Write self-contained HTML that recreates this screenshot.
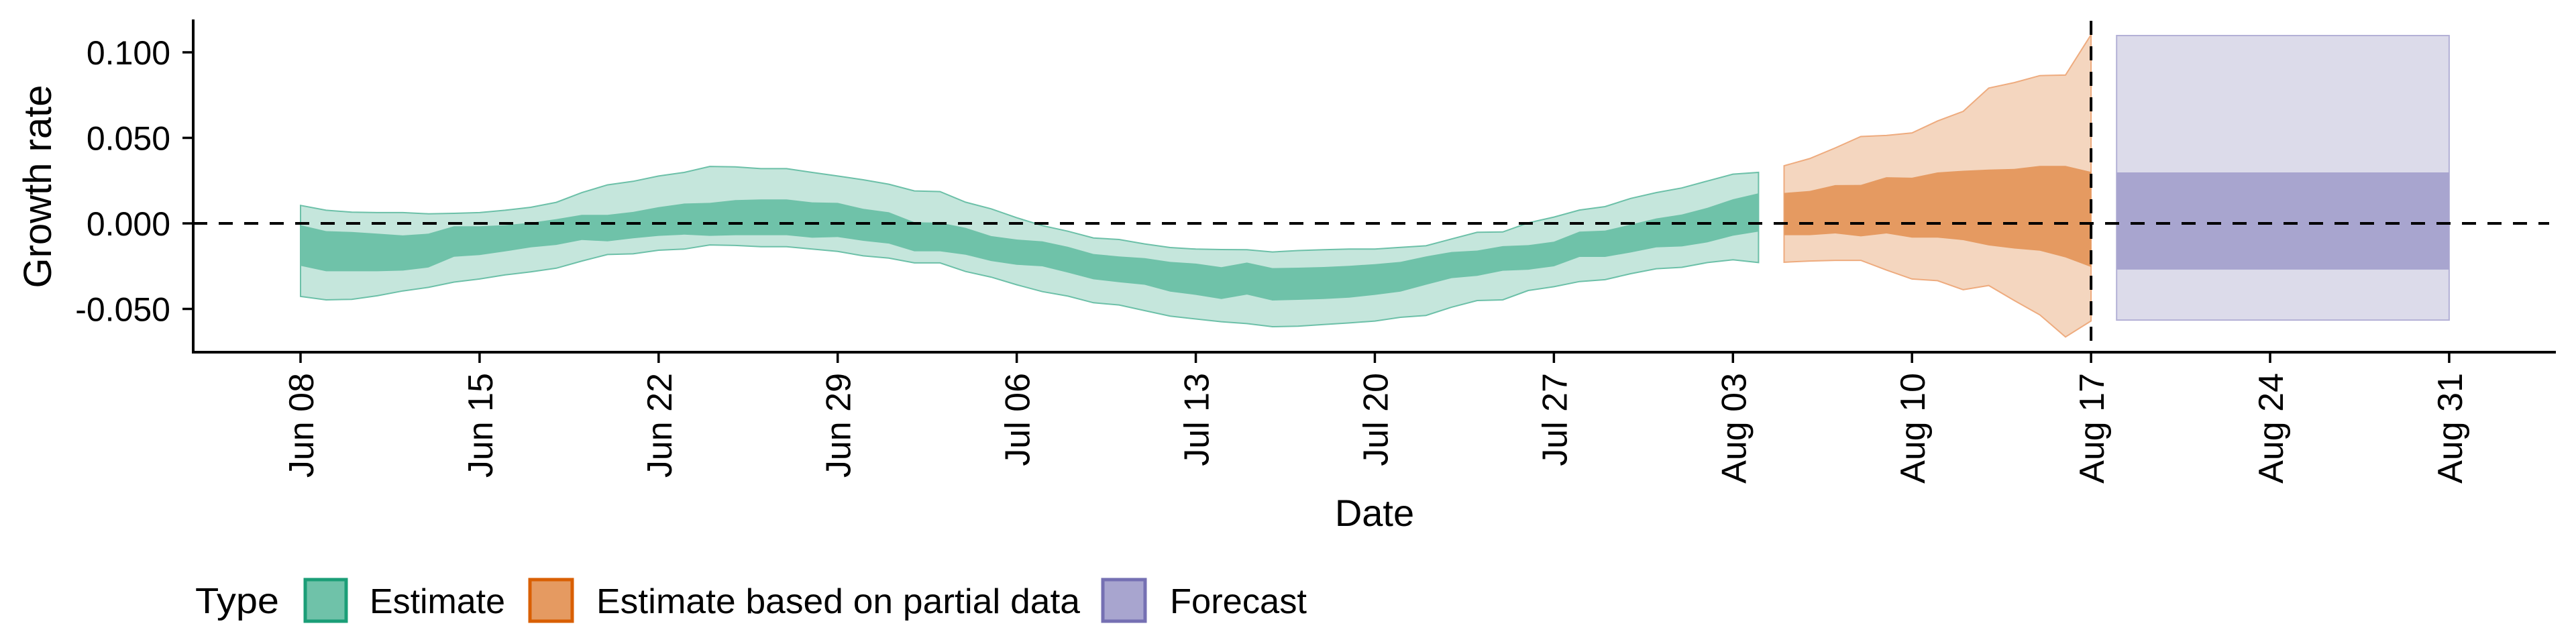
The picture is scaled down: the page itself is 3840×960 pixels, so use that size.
<!DOCTYPE html>
<html><head><meta charset="utf-8"><style>
html,body{margin:0;padding:0;background:#fff;}
svg{display:block;font-family:"Liberation Sans",sans-serif;}
</style></head><body>
<svg id="chart" width="3840" height="960" viewBox="0 0 3840 960" xmlns="http://www.w3.org/2000/svg">
<g id="bands"></g>
<g id="axes"></g>
<g id="legend">
  <text x="291" y="914" font-size="54" textLength="125" lengthAdjust="spacingAndGlyphs">Type</text>
  <rect x="455" y="864" width="61" height="62" fill="#6fc2a9" stroke="#1b9e77" stroke-width="5"/>
  <text x="551" y="914" font-size="52" textLength="202" lengthAdjust="spacingAndGlyphs">Estimate</text>
  <rect x="790" y="864" width="63" height="62" fill="#e59a61" stroke="#d95f02" stroke-width="5"/>
  <text x="889" y="914" font-size="52" textLength="721" lengthAdjust="spacingAndGlyphs">Estimate based on partial data</text>
  <rect x="1644" y="864" width="63" height="62" fill="#a8a5cf" stroke="#7570b3" stroke-width="5"/>
  <text x="1744" y="914" font-size="52" textLength="204" lengthAdjust="spacingAndGlyphs">Forecast</text>
</g>
</svg>
<script>
// Day index 0 = Jun 08
const tickLabels = ["Jun 08","Jun 15","Jun 22","Jun 29","Jul 06","Jul 13","Jul 20","Jul 27","Aug 03","Aug 10","Aug 17","Aug 24","Aug 31"];
const tickDays = [0,7,14,21,28,35,42,49,56,63,70,77,84];
const yTicks = [0.1,0.05,0,-0.05];
const yTickLabels = ["0.100","0.050","0.000","-0.050"];

const estStart = 0;
const estOuterUp = [.0105,.0077,.0066,.0063,.0063,.0056,.0059,.0063,.0077,.0094,.0123,.018,.0225,.0246,.0277,.0298,.0333,.033,.032,.032,.0298,.0277,
 .0255,.0229,.0190,.0186,.0124,.0085,.0033,-.0013,-.0046,-.0085,-.0094,-.0120,-.0141,-.0150,-.0153,-.0154,-.0167,-.0159,-.0154,-.0150,-.0150,-.0140,-.0131,-.0091,-.0052,-.0050,.0003,.0037,.0078,.0098,.0146,.0180,.0207,.0248,.0288,.0298];
const estInnerUp = [-.001,-.0045,-.005,-.006,-.007,-.006,-.0017,-.0017,-.001,.0004,.0025,.005,.005,.0067,.0095,.0116,.012,.0136,.014,.014,.0123,.012,
 .0085,.0065,.0007,.0004,-.0026,-.0074,-.0094,-.0105,-.0137,-.0179,-.0193,-.0203,-.0225,-.0235,-.0256,-.0229,-.0261,-.0259,-.0255,-.0248,-.0238,-.0225,-.0193,-.0167,-.0159,-.0133,-.0127,-.0107,-.0048,-.0042,-.0007,.0029,.0052,.0091,.0141,.0176];
const estInnerLo = [-.0248,-.028,-.028,-.028,-.0276,-.0258,-.0195,-.0185,-.0164,-.014,-.0126,-.0097,-.0105,-.0087,-.0073,-.0066,-.0073,-.0069,-.0069,-.0069,-.0084,-.008,
 -.0102,-.0118,-.0163,-.0163,-.0183,-.0220,-.0242,-.0251,-.0288,-.0327,-.0344,-.0359,-.0399,-.0418,-.0442,-.0416,-.0451,-.0447,-.0442,-.0434,-.0418,-.0399,-.0359,-.0320,-.0307,-.0277,-.0271,-.0251,-.0196,-.0196,-.0170,-.0140,-.0135,-.0111,-.0072,-.0048];
const estOuterLo = [-.0427,-.0447,-.0444,-.0423,-.0395,-.0374,-.0343,-.0325,-.0301,-.0283,-.0262,-.022,-.0182,-.0178,-.0157,-.015,-.0126,-.0129,-.0136,-.0136,-.015,-.0164,
 -.0190,-.0203,-.0231,-.0231,-.0281,-.0314,-.0359,-.0399,-.0425,-.0464,-.0477,-.0510,-.0542,-.0559,-.0575,-.0586,-.0604,-.0601,-.0591,-.0582,-.0571,-.0549,-.0538,-.0490,-.0451,-.0447,-.0392,-.0370,-.0340,-.0329,-.0294,-.0265,-.0257,-.0229,-.0213,-.0229];

const partStart = 58;
const partOuterUp = [.0337,.0379,.0441,.0508,.0514,.0529,.0599,.0655,.0791,.0823,.0864,.0867,.1103];
const partInnerUp = [.0178,.0190,.0224,.0225,.0270,.0267,.0298,.0308,.0315,.0319,.0336,.0336,.0301];
const partInnerLo = [-.0069,-.0069,-.0059,-.0076,-.0059,-.0083,-.0083,-.0098,-.0129,-.0147,-.0160,-.0199,-.0255];
const partOuterLo = [-.0227,-.0220,-.0216,-.0216,-.0273,-.0325,-.0335,-.0388,-.0363,-.0451,-.0535,-.0664,-.0570];

const foreStart = 71;
const foreOuterUp = [.1098,.1098,.1098,.1098,.1098,.1098,.1098,.1098,.1098,.1098,.1098,.1098,.1098,.1098];
const foreInnerUp = [.0298,.0298,.0298,.0298,.0298,.0298,.0298,.0298,.0298,.0298,.0298,.0298,.0298,.0298];
const foreInnerLo = [-.027,-.027,-.027,-.027,-.027,-.027,-.027,-.027,-.027,-.027,-.027,-.027,-.027,-.027];
const foreOuterLo = [-.0565,-.0565,-.0565,-.0565,-.0565,-.0565,-.0565,-.0565,-.0565,-.0565,-.0565,-.0565,-.0565,-.0565];

const forecastLineDay = 70;

const NS = "http://www.w3.org/2000/svg";
const X0 = 448, DAYW = 38.13, Y0 = 333, YK = 2550;
function xs(d){ return X0 + d*DAYW; }
function ys(v){ return Y0 - v*YK; }
function mk(tag, attrs, parent){
  const e = document.createElementNS(NS, tag);
  for (const k in attrs) e.setAttribute(k, attrs[k]);
  parent.appendChild(e); return e;
}
const bands = document.getElementById('bands');
const axes = document.getElementById('axes');

function band(start, up, lo, fill, stroke, name){
  let pts = [];
  up.forEach((v,i)=>pts.push(xs(start+i).toFixed(1)+','+ys(v).toFixed(1)));
  for (let i=lo.length-1;i>=0;i--) pts.push(xs(start+i).toFixed(1)+','+ys(lo[i]).toFixed(1));
  const p = mk('polygon',{points:pts.join(' '),fill:fill,stroke:stroke,'stroke-width':stroke==='none'?0:2}, bands);
  
  
}
band(estStart, estOuterUp, estOuterLo, '#c5e6dc', '#6cc0a8', 'estimate-outer-band');
band(estStart, estInnerUp, estInnerLo, '#6fc2a9', 'none', 'estimate-inner-band');
band(partStart, partOuterUp, partOuterLo, '#f4d6bf', '#eeab7e', 'partial-outer-band');
band(partStart, partInnerUp, partInnerLo, '#e59a61', 'none', 'partial-inner-band');
band(foreStart, foreOuterUp, foreOuterLo, '#dcdbea', '#b3b0d6', 'forecast-outer-band');
band(foreStart, foreInnerUp, foreInnerLo, '#a8a5cf', 'none', 'forecast-inner-band');

const zl = mk('line',{x1:288,x2:3800,y1:ys(0),y2:ys(0),stroke:'#000','stroke-width':4,'stroke-dasharray':'21 17'}, axes);


const vl = mk('line',{x1:xs(forecastLineDay),x2:xs(forecastLineDay),y1:31,y2:525,stroke:'#000','stroke-width':4,'stroke-dasharray':'21 17'}, axes);



const ya = mk('line',{x1:288,x2:288,y1:29,y2:526.5,stroke:'#000','stroke-width':4}, axes);


const xa = mk('line',{x1:286,x2:3810,y1:525,y2:525,stroke:'#000','stroke-width':4}, axes);



yTicks.forEach((v,i)=>{
  const t = mk('line',{x1:272,x2:288,y1:ys(v),y2:ys(v),stroke:'#000','stroke-width':3.5}, axes);
  
  
  const l = mk('text',{x:254,y:ys(v)+18,'font-size':50,'text-anchor':'end',fill:'#000'}, axes);
  l.textContent = yTickLabels[i];
  
  
});
tickDays.forEach((d,i)=>{
  const x = xs(d);
  const t = mk('line',{x1:x,x2:x,y1:525,y2:541,stroke:'#000','stroke-width':3.5}, axes);
  
  
  const l = mk('text',{x:0,y:0,'font-size':52,'text-anchor':'end',fill:'#000',transform:'translate('+(x+19)+',556) rotate(-90)'}, axes);
  l.textContent = tickLabels[i];
  
  
});
const xt = mk('text',{x:2049,y:784,'font-size':56,'text-anchor':'middle',fill:'#000'}, axes);
xt.textContent = 'Date';


const yt = mk('text',{x:0,y:0,'font-size':58,'text-anchor':'middle',fill:'#000',transform:'translate(76,278) rotate(-90)'}, axes);
yt.textContent = 'Growth rate';


</script>
</body></html>
